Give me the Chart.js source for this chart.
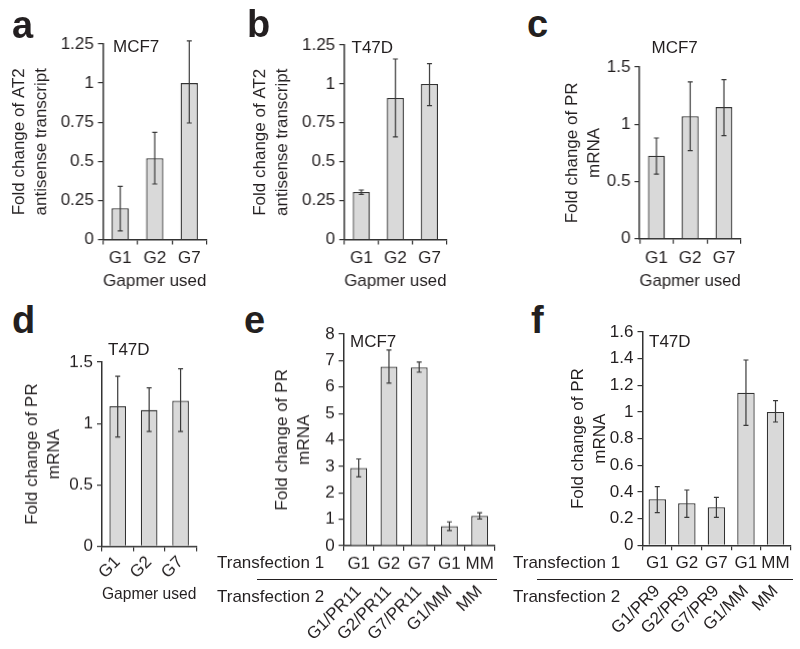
<!DOCTYPE html>
<html>
<head>
<meta charset="utf-8">
<script src="https://cdn.jsdelivr.net/npm/chart.js@4/dist/chart.umd.min.js"></script>
<style>
  body { margin: 0; background: #fff; }
  #fig { position: relative; width: 800px; height: 649px; background: #fff; overflow: hidden;
         font-family: "Liberation Sans", Arial, sans-serif; color: #231f20; }
  .box { position: absolute; }
  .txt { position: absolute; font-size: 17px; line-height: 20.4px; white-space: nowrap; }
  .letter { position: absolute; font-size: 38px; line-height: 38px; font-weight: bold; }
  .rule { position: absolute; height: 1.3px; background: #231f20; }
</style>
</head>
<body>
<div id="fig">
  <div class="box" style="left:9.2px;top:27.5px;width:200.5px;height:264.3px"><canvas id="chartA"></canvas></div>
  <div class="box" style="left:250.2px;top:28.5px;width:199.5px;height:263.3px"><canvas id="chartB"></canvas></div>
  <div class="box" style="left:562.2px;top:50.7px;width:181.8px;height:241.1px"><canvas id="chartC"></canvas></div>
  <div class="box" style="left:21.7px;top:346.3px;width:178.3px;height:257.7px"><canvas id="chartD"></canvas></div>
  <div class="box" style="left:271.7px;top:318.3px;width:226.8px;height:330.7px"><canvas id="chartE"></canvas></div>
  <div class="box" style="left:568.2px;top:315.7px;width:226.3px;height:333.3px"><canvas id="chartF"></canvas></div>

  <!-- lettres des panneaux -->
  <div class="letter" style="left:12px;top:6px">a</div>
  <div class="letter" style="left:247px;top:5px">b</div>
  <div class="letter" style="left:527px;top:5px">c</div>
  <div class="letter" style="left:12px;top:301px">d</div>
  <div class="letter" style="left:244px;top:301px">e</div>
  <div class="letter" style="left:531px;top:301px">f</div>

  <!-- noms des lignées -->
  <div class="txt" style="left:113px;top:36.7px">MCF7</div>
  <div class="txt" style="left:351.5px;top:37.5px">T47D</div>
  <div class="txt" style="left:651.5px;top:38.3px">MCF7</div>
  <div class="txt" style="left:108px;top:340px">T47D</div>
  <div class="txt" style="left:350px;top:331.5px">MCF7</div>
  <div class="txt" style="left:649px;top:331.5px">T47D</div>

  <!-- légendes des transfections -->
  <div class="txt" style="left:217px;top:553px">Transfection 1</div>
  <div class="rule" style="left:257px;top:579px;width:240px"></div>
  <div class="txt" style="left:217px;top:587px">Transfection 2</div>
  <div class="txt" style="left:513px;top:553px">Transfection 1</div>
  <div class="rule" style="left:537px;top:579px;width:256px"></div>
  <div class="txt" style="left:513px;top:587px">Transfection 2</div>
</div>

<script>
// Données
const gapmers = ['G1', 'G2', 'G7'];
const transfection1 = ['G1', 'G2', 'G7', 'G1', 'MM'];
const transfection2E = ['G1/PR11', 'G2/PR11', 'G7/PR11', 'G1/MM', 'MM'];
const transfection2F = ['G1/PR9', 'G2/PR9', 'G7/PR9', 'G1/MM', 'MM'];

const valuesA = [0.20, 0.52, 1.00];
const lowA = [0.055, 0.355, 0.745];
const highA = [0.34, 0.685, 1.27];

const valuesB = [0.305, 0.91, 1.00];
const lowB = [0.29, 0.66, 0.86];
const highB = [0.318, 1.16, 1.13];

const valuesC = [0.725, 1.07, 1.15];
const lowC = [0.565, 0.77, 0.90];
const highC = [0.88, 1.37, 1.39];

const valuesD = [1.14, 1.11, 1.185];
const lowD = [0.89, 0.935, 0.935];
const highD = [1.385, 1.29, 1.445];

const valuesE = [2.94, 6.77, 6.74, 0.74, 1.13];
const lowE = [2.60, 6.15, 6.56, 0.57, 1.01];
const highE = [3.28, 7.40, 6.94, 0.90, 1.25];

const valuesF = [0.345, 0.315, 0.285, 1.145, 1.00];
const lowF = [0.245, 0.21, 0.21, 0.90, 0.925];
const highF = [0.44, 0.415, 0.36, 1.39, 1.085];

const ticksAB = [0, 0.25, 0.5, 0.75, 1, 1.25];
const ticksCD = [0, 0.5, 1, 1.5];
const ticksE = [0, 1, 2, 3, 4, 5, 6, 7, 8];
const ticksF = [0, 0.2, 0.4, 0.6, 0.8, 1, 1.2, 1.4, 1.6];

const titleAT2 = ['Fold change of AT2', 'antisense transcript'];
const titlePR = ['Fold change of PR', 'mRNA'];

const INK = '#231f20';
const LINE = '#333333';
Chart.defaults.font.family = '"Liberation Sans", Arial, sans-serif';
Chart.defaults.font.size = 17;
Chart.defaults.color = INK;

// Barres d'erreur dessinées à partir des données du dataset
const errorBars = {
    id: 'errorBars',
    afterDatasetsDraw(chart) {
        const ctx = chart.ctx;
        const y = chart.scales.y;
        const ds = chart.data.datasets[0];
        const meta = chart.getDatasetMeta(0);
        ctx.save();
        ctx.strokeStyle = '#3a3a3a';
        ctx.lineWidth = 1.2;
        meta.data.forEach((bar, i) => {
            const yl = y.getPixelForValue(ds.errLow[i]);
            const yh = y.getPixelForValue(ds.errHigh[i]);
            ctx.beginPath();
            ctx.moveTo(bar.x, yl); ctx.lineTo(bar.x, yh);
            ctx.moveTo(bar.x - 2.5, yl); ctx.lineTo(bar.x + 2.5, yl);
            ctx.moveTo(bar.x - 2.5, yh); ctx.lineTo(bar.x + 2.5, yh);
            ctx.stroke();
        });
        ctx.restore();
    }
};

function axisGrid(offset) {
    return { display: true, offset: offset, drawOnChartArea: false, drawTicks: true,
             tickLength: 5, color: LINE, lineWidth: 1.2 };
}

function buildPanel(id, p) {
    const scales = {
        x: {
            type: 'category',
            offset: true,
            grid: axisGrid(true),
            border: { display: true, color: LINE, width: 1.5 },
            ticks: { color: INK, padding: p.xPad, autoSkip: false,
                     minRotation: p.xRot, maxRotation: p.xRot },
            title: p.xTitle
                ? { display: true, text: p.xTitle, color: INK, padding: 0,
                    font: { size: 17, lineHeight: 1.27 } }
                : { display: false },
            afterFit: s => { s.height = p.xHeight; }
        },
        y: {
            min: 0,
            max: p.yTicks[p.yTicks.length - 1],
            grid: axisGrid(false),
            border: { display: true, color: LINE, width: 1.5 },
            ticks: { color: INK, padding: 4, callback: v => String(v) },
            afterBuildTicks: s => { s.ticks = p.yTicks.map(v => ({ value: v })); },
            title: { display: true, text: p.yTitle, color: INK, padding: 0,
                     font: { size: 17, lineHeight: 1.27 } },
            afterFit: s => { s.width = p.yWidth; }
        }
    };
    if (p.x2Labels) {
        // deuxième rangée d'étiquettes (Transfection 2), inclinées
        scales.x2 = {
            type: 'category',
            labels: p.x2Labels,
            position: 'bottom',
            offset: true,
            grid: { display: false, drawTicks: false },
            border: { display: false },
            ticks: { color: INK, padding: 1, autoSkip: false, minRotation: 45, maxRotation: 45 },
            afterFit: s => { s.height = 69; }
        };
    }

    return new Chart(document.getElementById(id), {
        type: 'bar',
        data: {
            labels: p.labels,
            datasets: [{
                data: p.values,
                errLow: p.low,
                errHigh: p.high,
                xAxisID: 'x',
                yAxisID: 'y',
                backgroundColor: '#d9d9d9',
                borderColor: LINE,
                borderWidth: 1.3,
                barPercentage: p.barPct,
                categoryPercentage: 1
            }]
        },
        options: {
            responsive: true,
            maintainAspectRatio: false,
            animation: false,
            events: [],
            layout: { padding: { top: 16, right: 4, bottom: 0, left: 0 } },
            plugins: { legend: { display: false }, tooltip: { enabled: false } },
            scales: scales
        },
        plugins: [errorBars]
    });
}

buildPanel('chartA', { labels: gapmers, values: valuesA, low: lowA, high: highA,
    yTicks: ticksAB, yTitle: titleAT2, yWidth: 93.5, xTitle: 'Gapmer used',
    xHeight: 52.8, xPad: 4, xRot: 0, barPct: 0.5 });

buildPanel('chartB', { labels: gapmers, values: valuesB, low: lowB, high: highB,
    yTicks: ticksAB, yTitle: titleAT2, yWidth: 93.8, xTitle: 'Gapmer used',
    xHeight: 52.8, xPad: 4, xRot: 0, barPct: 0.5 });

buildPanel('chartC', { labels: gapmers, values: valuesC, low: lowC, high: highC,
    yTicks: ticksCD, yTitle: titlePR, yWidth: 77.1, xTitle: 'Gapmer used',
    xHeight: 53.3, xPad: 4, xRot: 0, barPct: 0.5 });

buildPanel('chartD', { labels: gapmers, values: valuesD, low: lowD, high: highD,
    yTicks: ticksCD, yTitle: titlePR, yWidth: 80, xTitle: 'Gapmer used',
    xHeight: 58.3, xPad: 1, xRot: 45, barPct: 0.53 });

buildPanel('chartE', { labels: transfection1, x2Labels: transfection2E,
    values: valuesE, low: lowE, high: highE,
    yTicks: ticksE, yTitle: titlePR, yWidth: 71.6,
    xHeight: 34.7, xPad: 3, xRot: 0, barPct: 0.56 });

buildPanel('chartF', { labels: transfection1, x2Labels: transfection2F,
    values: valuesF, low: lowF, high: highF,
    yTicks: ticksF, yTitle: titlePR, yWidth: 74.5,
    xHeight: 35, xPad: 3, xRot: 0, barPct: 0.59 });
</script>
</body>
</html>
